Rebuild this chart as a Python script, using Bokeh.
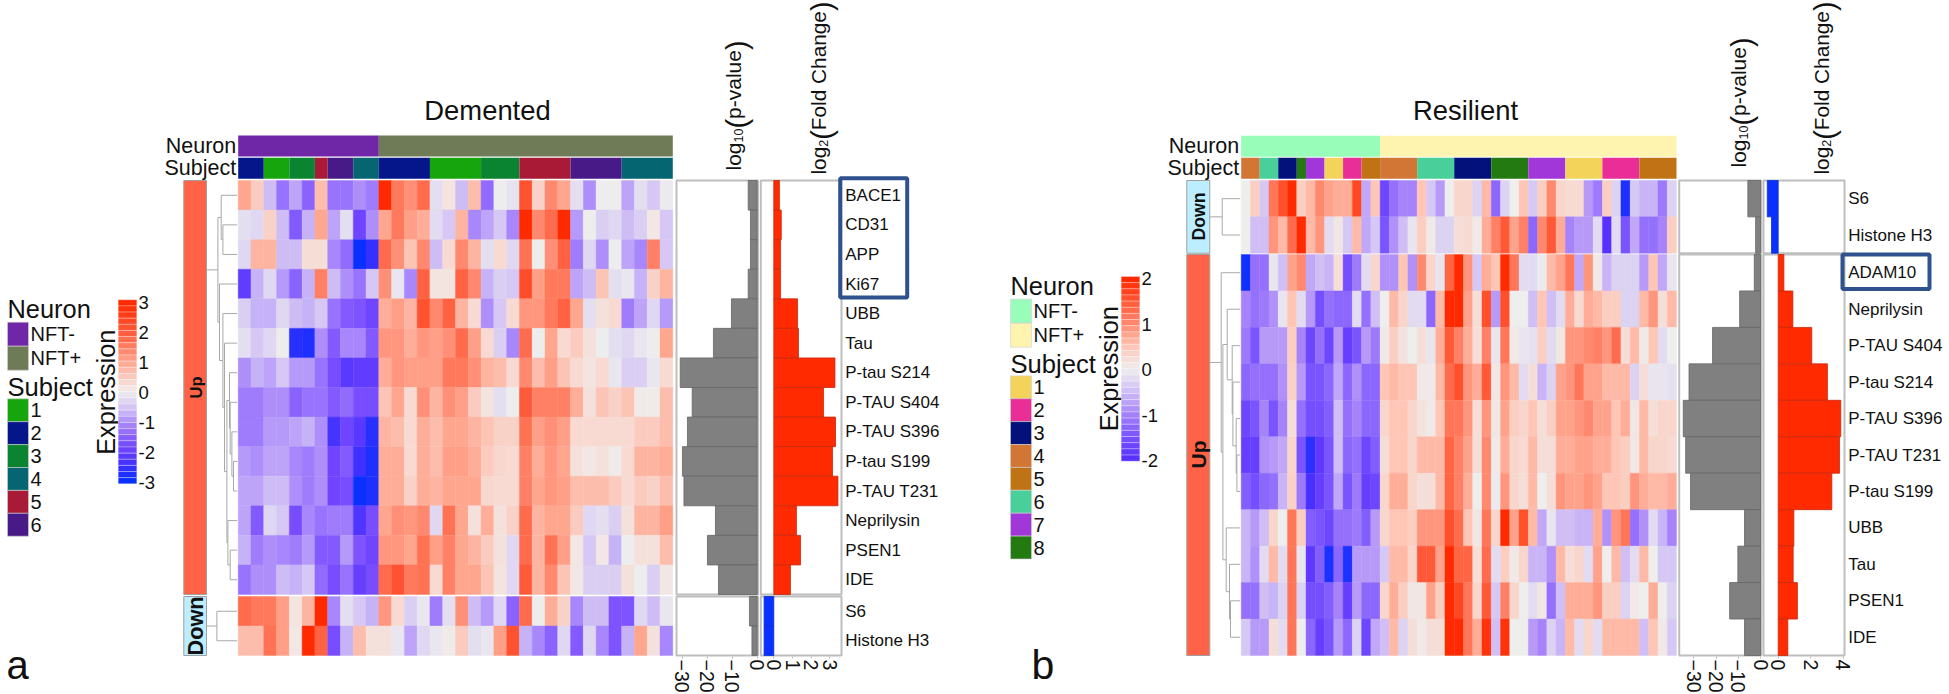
import numpy as np
from bokeh.plotting import figure
from bokeh.models import Range1d, LinearAxis, FixedTicker, LinearColorMapper, ColumnDataSource
from bokeh.core.properties import value
from bokeh.embed import file_html
from bokeh.resources import INLINE

# ---------- DATA: Demented ----------
DEM_GENES = ["BACE1","CD31","APP","Ki67","UBB","Tau","P-tau S214","P-TAU S404","P-TAU S396","P-tau S199","P-TAU T231","Neprilysin","PSEN1","IDE","S6","Histone H3"]
DEM_NEURON = ["NFT-"]*11 + ["NFT+"]*23
DEM_SUBJECT = [2,2,1,1,3,3,5,6,6,4,4, 2,2,2,2,1,1,1,1,3,3,3,5,5,5,5,6,6,6,6,4,4,4,4]
DEM_PVAL = [-3.6,-2.7,-2.7,-3.6,-10.3,-17.5,-30.8,-26,-27.9,-29.9,-29.3,-16.7,-19.9,-15.5,-3.1,-2.1]
DEM_FC = [.3,.4,.36,.36,1.27,1.32,3.27,2.66,3.3,3.14,3.43,1.21,1.43,.89,-.52,-.52]
D0 = [1.0,.5,-.6,-1.3,-.8,-1.5,.7,-1.3,-1.3,-1.0,-1.2,3,1.6,1.3,1.8,-.2,.15,-.6,.7,-1.4,0,-.15,2.2,.4,1.4,1.0,-.2,-1.0,0,0,-.8,-.2,-.5,-.05]
D1 = [-.2,-.3,.4,-.6,-1.6,-.7,1.0,-.8,-.2,-1.9,-1.0,1.0,1.6,1.1,.9,-.25,-.5,.8,-1.1,-.8,-.5,-1.1,3,1.4,1.8,3,-.9,0,-.4,-.3,-.6,-.4,.1,-.5]
D2 = [-.3,.8,.8,-.6,-.6,.25,.25,-1.1,-1.4,-3,-2.6,1.8,1.3,.6,1.4,-.6,.3,1.4,.8,-.2,.3,-.3,1.7,0,1.3,1.9,-1.2,-.3,-1.0,0,-.8,-1.1,1.5,-.5]
D3 = [-2.1,-.7,-.3,-.9,-1.5,-.7,1.5,-.6,-1.0,-1.3,-.5,1.3,-.1,-1.1,1.9,.15,.15,1.9,1.4,-.7,-.4,-.5,2.3,1.1,1.6,1.6,-.8,-.6,.6,-.2,-.1,-.7,.4,.8]
D4 = [-.4,-.7,-.7,-.3,-.6,-.7,-.5,-1.3,-1.6,-1.7,-1.9,.9,1.1,.8,2.2,1.4,1.9,.8,.3,-1.0,-.5,.3,1.2,1.2,1.6,1.9,1.0,-.2,.2,.3,-1.2,-.8,-.3,-.9]
D5 = [-.2,-.5,-.3,0,-2.7,-2.8,-1.0,-1.6,-1.1,-1.1,-1.6,1.2,1.2,.9,1.2,1.1,1.3,1.8,1.1,.3,-.4,-1.1,1.8,0,1.0,.3,.5,.2,0,-.2,-.3,-.1,0,1.0]
D6 = [-1.0,-.7,-.8,-.5,-.9,-.9,-1.3,-1.8,-2.2,-2.1,-2.1,.9,1.2,1.1,1.1,1.1,1.6,1.6,1.3,.8,.7,.3,1.4,.7,1.1,.6,.3,.15,.3,-.1,-.4,-.4,-.1,.3]
D7 = [-1.2,-1.2,-1.0,-1.0,-1.5,-1.3,-1.3,-1.6,-1.4,-1.8,-1.8,.6,1.0,.3,1.3,.8,1.3,1.1,.5,.15,-.2,0,2.0,1.5,1.5,1.5,.9,.2,.6,.4,.6,.05,.05,.7]
D8 = [-1.2,-1.2,-.9,-.9,-.8,-.7,-1.0,-2.4,-1.9,-2.2,-2.7,.8,.7,.3,.9,.7,1.0,1.0,.8,.6,.4,.4,1.7,1.1,1.3,1.1,.3,.3,.3,.3,.3,.5,.5,.7]
D9 = [-.9,-1.0,-.8,-.8,-1.1,-1.2,-1.0,-1.9,-1.6,-2.5,-2.8,.9,.9,.3,.9,.7,1.1,1.1,.9,.5,.35,.3,1.5,.9,1.2,1.0,.2,.1,.2,.05,.3,.8,.8,.9]
D10 = [-.8,-.8,-.6,-.6,-1.0,-1.2,-1.0,-1.9,-1.8,-3,-2.8,.9,.9,.4,.9,.8,1.0,1.0,1.0,.35,.3,.3,1.5,1.0,1.2,1.1,.7,.7,.7,.5,.3,.5,.4,.7]
D11 = [-.8,-1.6,-.3,-.5,-1.8,-1.1,-1.3,-1.2,-1.2,-2.3,-1.8,1.0,1.3,1.2,1.4,-.3,1.7,1.0,.2,.9,.2,.4,1.8,.8,1.0,1.0,.5,-.3,-.2,-.4,.2,.8,.8,1.1]
D12 = [-.7,-1.2,-1.0,-1.1,-1.2,-.9,-1.6,-1.6,-.9,-1.7,-1.9,1.2,1.2,1.0,1.7,1.1,1.5,1.0,.8,.5,.2,-.3,1.8,.8,1.7,1.1,.1,-.5,.1,-.7,0,.2,.2,.7]
D13 = [-1.3,-1.0,-1.0,-.6,-.7,-.5,-1.4,-1.8,-1.3,-2.0,-1.8,1.8,2.2,1.6,1.7,.3,1.5,1.0,1.0,.6,.15,-.3,2.0,.8,1.4,.6,.1,-.4,-.4,-.4,.2,0,-.4,.1]
D14 = [1.8,1.6,1.6,1.1,.15,.8,3,-1.1,-.2,-.5,-.7,1.2,.3,-.4,-.1,-1.2,-.2,1.3,-.6,-.9,-.3,-1.5,1.8,0,.9,.4,-1.1,-.6,-.6,-1.7,-1.7,-.3,-.6,-.1]
D15 = [.7,.7,1.7,1.1,.1,3,1.9,-1.8,-.7,.7,.2,.2,-.1,-.8,-.3,-.1,.05,.5,-.2,-.1,1.1,2.2,-.7,-1.1,-1.5,-.3,-1.6,-.3,-1.1,-1.7,-.7,1.0,.2,-1.1]
DEM_ROWS = [D0,D1,D2,D3,D4,D5,D6,D7,D8,D9,D10,D11,D12,D13,D14,D15]

# ---------- DATA: Resilient ----------
RES_GENES = ["S6","Histone H3","ADAM10","Neprilysin","P-TAU S404","P-tau S214","P-TAU S396","P-TAU T231","P-tau S199","UBB","Tau","PSEN1","IDE"]
RES_NEURON = ["NFT-"]*15 + ["NFT+"]*32
RES_SUBJECT = [4,4,6,6,3,3,8,7,7,1,1,2,2,5,5, 4,4,4,4,6,6,6,6,3,3,3,3,8,8,8,8,7,7,7,7,1,1,1,1,2,2,2,2,5,5,5,5]
RES_PVAL = [-5.7,-2.2,-2.8,-9.4,-21.6,-32.2,-34.8,-33.7,-31.5,-7.2,-10.2,-13.9,-7.2]
RES_FC = [-.67,-.41,.35,.9,2.06,3.02,3.84,3.76,3.29,.96,.92,1.18,.59]
R0 = [0,.4,-.4,1.2,1.6,2,.4,.6,1.0,.8,.7,.7,1.7,-.7,.5,-1.7,-1.2,-1.0,-1.0,.5,-.4,-.8,0,.3,.3,-.3,.6,-1.3,-.3,0,.5,-.4,.4,1.0,.3,.25,.25,-.8,-1.1,.4,-.3,-2.4,-.4,-.6,-.6,-1.1,-.3]
R1 = [0,-.5,-.5,.9,.6,1.3,2,.6,.9,-.2,.1,-.4,.6,-.7,-.4,-1.5,-.9,-.5,-.1,.4,.05,-.3,-.3,.2,.25,.05,.7,1.1,1.5,.8,1.1,-1.3,1.0,1.5,.7,-1.0,-.8,-.8,-.2,-2,-.2,-1.5,-.7,-1.2,-1.2,-1.0,.4]
R2 = [-2.5,-1.2,-1.2,-.1,-.5,.8,1.0,-.7,-.5,-.6,.2,-1.6,-1.1,-.2,.3,-.9,-.9,.5,-.9,1.0,.3,-.1,1.4,2,.9,-.4,.7,.5,2,1.2,-.2,-.2,-.05,.6,.8,1.2,-.7,.9,.05,-.6,-.3,-.3,-.3,-.8,.5,-.7,-.1]
R3 = [-1.0,-1.2,-1.1,-.9,-.1,.5,-.2,-.8,-1.6,-1.2,-1.3,-1.3,-.2,-1.2,-.5,0,.6,.3,-.2,-.2,-1.3,.6,2,2,.8,.2,1.6,-.8,1.6,0,0,-.5,.5,-.5,-.2,.7,.25,.7,.6,.4,.4,-.3,-.3,.6,.9,.2,.6]
R4 = [-1.1,-1.5,-.8,-.8,-.8,.4,-1.0,-1.7,-1.2,-1.7,-.8,-1.8,-1.5,-.8,-1.1,.05,.4,.15,0,.2,-.1,.7,1.5,1.1,.7,.2,1.1,-.1,1.2,.05,-.1,-.15,.4,-.2,.1,.9,.9,1.0,1.1,.9,1.3,.2,.6,.05,.5,-.2,0]
R5 = [-1.3,-1.2,-1.2,-1.2,-.9,.35,-.8,-1.5,-1.5,-1.3,-.7,-1.3,-.9,-1.3,-1.3,.5,.6,.5,.5,.05,.05,.6,1.3,1.6,.9,.7,1.5,.1,.9,.6,-.2,.2,-.6,-.3,.8,.9,1.2,.8,.8,.6,.6,.6,-.3,.2,-.1,-.1,-.15]
R6 = [-1.7,-1.5,-1.0,-1.5,-1.0,.2,-1.2,-1.6,-1.6,-1.4,-.5,-1.2,-1.0,-1.3,-1.3,.3,.5,.5,.3,.15,.05,.5,1.2,1.2,.9,.2,.9,.1,.8,.4,.3,.5,.2,.4,.8,.8,.9,1.0,.8,.8,.5,.7,.1,.6,.2,.3,.3]
R7 = [-1.8,-1.8,-.9,-.8,-.7,.3,-1.5,-2.3,-1.9,-1.5,-.5,-1.3,-1.2,-1.7,-1.4,.2,.5,.5,.3,.6,.6,.6,1.4,1.1,.8,.2,1.0,.05,.7,.3,.25,.6,.2,.2,.7,.7,.8,.8,.7,.7,.5,.4,.1,.6,.3,.3,.25]
R8 = [-1.4,-1.6,-1.3,-1.2,-.6,.35,-1.1,-2.1,-1.8,-1.5,-.7,-1.5,-1.1,-1.8,-1.7,.3,.7,.7,.3,.2,.2,.6,1.4,1.1,.7,0,1.0,-.05,.9,.3,.2,.6,0,.2,.9,.8,.8,.9,.8,.5,.5,.4,.9,.7,.6,.6,.7]
R9 = [-.6,-.8,-.5,.3,0,1.2,.4,-1.4,-1.5,-1.7,-1.2,-1.2,-1.1,-1.4,-.8,.3,.5,.5,.4,.9,.9,.9,1.6,1.3,.5,.1,1.2,.3,2,.8,1.6,.6,-.7,-.1,-.5,-.5,-.6,-.6,.7,-.9,.9,1.2,-1.2,-.9,-.2,-.6,-1.0]
R10 = [-.6,-.9,-.2,.6,-.2,1.2,-.1,-1.9,-1.4,-2.4,-1.3,-2.4,-.8,-.8,-.8,-.4,.6,.6,.3,1.5,1.5,.8,2,1.4,1.4,.2,1.3,-.2,.4,.05,.3,-.6,-.6,-.9,.6,.2,.3,-.2,.8,0,.6,-.5,-.2,.6,0,-.4,-.4]
R11 = [-1.2,-1.2,-.5,-.6,-.3,1.2,-.3,-1.6,-1.6,-1.4,-1.0,-1.8,-.8,-1.3,-1.3,.3,.7,.4,.1,.1,.8,.4,2,1.7,1.2,.3,1.5,-.4,1.1,.3,0,-.2,.1,-1.2,-.5,.7,.7,.7,.9,.4,.4,-.3,.05,0,.7,0,-.3]
R12 = [-.4,-.8,-.8,.2,-.2,1.2,0,-1.3,-1.8,-1.5,-.8,-1.3,-.3,-1.7,-.7,-.5,.6,-.3,.2,.05,.2,.2,2,2,1.2,.7,1.9,-.5,1.9,0,0,-.8,-1.0,-.3,-.6,.6,-.2,.3,-.2,.6,.6,.6,.6,-.5,.5,.05,-.4]
RES_ROWS = [R0,R1,R2,R3,R4,R5,R6,R7,R8,R9,R10,R11,R12]

# Dendrograms: (height, child, child); leaves are row indices
DEM_TREE_UP = (19.3, (16,0,(14.3,1,2)),
               (17.7,3,(14.3,4,(12.7,5,(10.3,(7.7,6,(7,7,(5.3,8,(3.7,9,10)))),(9.3,11,(7,12,13)))))))
DEM_TREE_DOWN = (20.3,14,15)
RES_TREE_DOWN = (18,0,1)
RES_TREE_UP = (19,2,(17.3,(13,3,(8,4,(7.3,5,(4,6,(3.3,7,8))))),(14,9,(10.7,10,(9.7,11,12)))))

DEM_NEURON_COLORS = {"NFT-":"#6F27A8","NFT+":"#6F7A56"}
DEM_SUBJECT_COLORS = {1:"#17A50E",2:"#04168A",3:"#0A8430",4:"#056570",5:"#A81A35",6:"#471A88"}
RES_NEURON_COLORS = {"NFT-":"#97FDB9","NFT+":"#FFF3B0"}
RES_SUBJECT_COLORS = {1:"#F3D35A",2:"#E92F97",3:"#02127A",4:"#D27635",5:"#BF7315",6:"#49CF99",7:"#A137D8",8:"#237A10"}

DEM_ANCHORS = [(-3,"#0A30FF"),(-2.5,"#3F30FF"),(-2,"#6A3FFF"),(-1.5,"#8A62FF"),(-1,"#AE8FFA"),(-.5,"#D6C8F4"),(0,"#EEEEEE"),(.3,"#F8DAD2"),(1,"#FFA68F"),(2,"#FF5C3C"),(3,"#FF2A00")]
RES_ANCHORS = [(-2.5,"#0F30FF"),(-2,"#5A30FF"),(-1.5,"#7A55FF"),(-1,"#A783FA"),(-.5,"#D0BFF5"),(0,"#EEEEEE"),(.5,"#FFC6B6"),(1,"#FF8A70"),(1.5,"#FF5A38"),(2,"#FF2A00")]

FONT = value("Liberation Sans")
GREY = "#BEBEBE"; TREE = "#A8A8A8"; BOX = "#2F528F"; INK = "#111111"
W, H = 1949, 694

def make_palette(anchors, n=256):
    vs = np.array([a[0] for a in anchors], float)
    cs = np.array([[int(a[1][i:i+2],16) for i in (1,3,5)] for a in anchors], float)
    t = np.linspace(vs[0], vs[-1], n)
    return ["#%02x%02x%02x" % tuple(int(round(np.interp(x, vs, cs[:,k]))) for k in range(3)) for x in t]

for r in DEM_ROWS: assert len(r)==34, len(r)
for i,r in enumerate(RES_ROWS): assert len(r)==47, (i,len(r))

p = figure(width=W, height=H, x_range=Range1d(0,W), y_range=Range1d(H,0),
           toolbar_location=None, output_backend="svg", min_border=0,
           x_axis_location=None, y_axis_location=None, outline_line_color=None)
p.grid.visible = False

def txt(x,y,s,size,align="left",base="middle",angle=0,style="normal",color=INK):
    p.text(x=[x],y=[y],text=[s],text_font=FONT,text_font_size=value(f"{size}px"),text_align=align,
           text_baseline=base,angle=angle,text_font_style=style,text_color=color)

def value_range(name, zero_px, px_per_unit):
    p.extra_x_ranges[name] = Range1d(start=(0-zero_px)/px_per_unit, end=(W-zero_px)/px_per_unit)

def draw_tree(node, centers, xr):
    xs, ys = [], []
    def rec(n):
        if isinstance(n,int): return xr, centers[n]
        h,a,b = n
        x = xr-h
        xa,ya = rec(a); xb,yb = rec(b)
        xs.append([xa,x,x,xb]); ys.append([ya,ya,yb,yb])
        return x,(ya+yb)/2
    out = rec(node)
    p.multi_line(xs,ys,line_color=TREE,line_width=1)
    return out

def runs(labels):
    out = []; start = 0
    for i in range(1,len(labels)+1):
        if i==len(labels) or labels[i]!=labels[start]:
            out.append((start,i,labels[start])); start = i
    return out

def draw_panel(title, title_x, rows, genes, neuron, subject, ncol_colors, scol_colors, anchors, low, high,
               hx0, hx1, groups, tracks_y, bar_x, trees, pval, fc, pbox, fbox, pz, pk, fz, fk, pname, fname,
               pticks, fticks, lab_x, lab_size, ylog):
    mapper = LinearColorMapper(palette=make_palette(anchors), low=low, high=high)
    ncol = len(rows[0]); w = (hx1-hx0)/ncol
    left = hx0+np.arange(ncol)*w
    centers = {}
    lx,rx,tp,bt,val = [],[],[],[],[]
    bands = {}
    for (name, y0, y1, idx) in groups:
        h = (y1-y0)/len(idx)
        for k,i in enumerate(idx):
            centers[i] = y0+(k+.5)*h
            bands[i] = h
            for c in range(ncol):
                lx.append(left[c]); rx.append(left[c]+w); tp.append(y0+k*h); bt.append(y0+(k+1)*h); val.append(rows[i][c])
    src = ColumnDataSource(dict(l=lx,r=rx,t=tp,b=bt,v=val))
    tr = {"field":"v","transform":mapper}
    p.quad(left="l",right="r",top="t",bottom="b",source=src,fill_color=tr,line_color=tr,line_width=.4)
    # tracks, one block per run of equal labels
    for labels, colors, (y0,y1) in ((neuron,ncol_colors,tracks_y[0]),(subject,scol_colors,tracks_y[1])):
        rr = runs(labels)
        p.quad(left=[hx0+a*w for a,b,s in rr],right=[hx0+b*w for a,b,s in rr],top=y0,bottom=y1,
               fill_color=[colors[s] for a,b,s in rr],line_color=None)
    txt(hx0-2,np.mean(tracks_y[0]),"Neuron",21.5,"right")
    txt(hx0-2,np.mean(tracks_y[1]),"Subject",21.5,"right")
    txt(title_x,110,title,27.4,"center")
    # group strips
    for (name,y0,y1,idx) in groups:
        col = "#FF6347" if name=="Up" else "#BCEEFF"
        p.quad(left=bar_x[0],right=bar_x[1],top=y0,bottom=y1,fill_color=col,line_color="#A0A0A0",line_width=1)
    # trees
    for tree,stem in trees:
        x,y = draw_tree(tree,centers,hx0-1)
        p.line([bar_x[1],x],[y,y],line_color=TREE,line_width=1)
    # bars
    ys = [centers[i] for i in range(len(genes))]
    hs = [bands[i] for i in range(len(genes))]
    value_range(pname,pz,pk); value_range(fname,fz,fk)
    for (name,y0,y1,idx) in groups:
        for bx in (pbox,fbox):
            p.quad(left=bx[0],right=bx[1],top=y0,bottom=y1,fill_color=None,line_color=GREY,line_width=2)
    p.hbar(y=ys,height=hs,left=0,right=pval,x_range_name=pname,fill_color="#808080",line_color="#666666",line_width=.8)
    fcols = ["#FF2A00" if v>0 else "#0A30FF" for v in fc]
    fline = ["#C62A10" if v>0 else "#0A30D0" for v in fc]
    p.hbar(y=ys,height=hs,left=0,right=fc,x_range_name=fname,fill_color=fcols,line_color=fline,line_width=.8)
    for rn,ticks in ((pname,pticks),(fname,fticks)):
        ax = LinearAxis(x_range_name=rn,fixed_location=656,ticker=FixedTicker(ticks=ticks),axis_line_color=None,
                        major_tick_line_color=GREY,major_tick_out=2,major_tick_in=0,minor_tick_line_color=None,
                        major_label_orientation="vertical",major_label_standoff=1,
                        major_label_text_font="Liberation Sans",major_label_text_font_size="19.5px",major_label_text_color=INK)
        p.add_layout(ax,"below")
    for i,g in enumerate(genes):
        txt(lab_x,centers[i],g,lab_size)
    # rotated headings
    for (base,bottom,sub,main,main_size) in ylog:
        ang = np.pi/2
        y = bottom
        txt(base,y,"log",main_size,base="alphabetic",angle=ang); y -= 1.334*main_size
        txt(base+5,y,sub,12.5,base="alphabetic",angle=ang); y -= .556*12.5*len(sub)
        txt(base+3,y,"(",29,base="alphabetic",angle=ang); y -= .333*29
        txt(base,y,main[0],main_size,base="alphabetic",angle=ang); y -= main[1]*main_size
        txt(base+3,y,")",29,base="alphabetic",angle=ang)
    return mapper, centers

def draw_legend(x0, neuron_y, ncolors, subj_y, scolors, step, ex, ey, cb, mapper, cbv, tick_zero, tick_step, ticks):
    txt(x0,neuron_y-13,"Neuron",25.4)
    for i,(k,c) in enumerate(ncolors.items()):
        p.quad(left=x0,right=x0+21,top=neuron_y+i*24,bottom=neuron_y+(i+1)*24,fill_color=c,line_color="#D0D0D0",line_width=.6)
        txt(x0+23,neuron_y+(i+.5)*24,k,20)
    txt(x0,subj_y-11.5,"Subject",25.6)
    for i,(k,c) in enumerate(scolors.items()):
        p.quad(left=x0,right=x0+21,top=subj_y+i*step,bottom=subj_y+(i+1)*step,fill_color=c,line_color="#D0D0D0",line_width=.6)
        txt(x0+23,subj_y+(i+.5)*step,str(k),20)
    txt(ex,ey,"Expression",25.3,"center",angle=np.pi/2)
    n = 30
    edges = np.linspace(cb[2],cb[3],n+1)
    vals = np.linspace(cbv[0],cbv[1],n)
    src = ColumnDataSource(dict(t=edges[:-1],b=edges[1:],v=vals))
    tr = {"field":"v","transform":mapper}
    p.quad(left=cb[0],right=cb[1],top="t",bottom="b",source=src,fill_color=tr,line_color="white",line_alpha=.35,line_width=.8)
    for t in ticks:
        txt(cb[1]+1.7,tick_zero-t*tick_step,str(t),18.5)

mapA, _ = draw_panel("Demented",487,DEM_ROWS,DEM_GENES,DEM_NEURON,DEM_SUBJECT,DEM_NEURON_COLORS,DEM_SUBJECT_COLORS,DEM_ANCHORS,-3,3,
    237.7,672.3,[("Up",180,594,list(range(14))),("Down",596,655,[14,15])],[(135,156),(157.3,178.3)],(183.3,206),
    [(DEM_TREE_UP,None),(DEM_TREE_DOWN,None)],DEM_PVAL,DEM_FC,(676,757.5),(760.3,841),756.7,2.5,773.3,18.7,"pa","fa",
    [-30,-20,-10,0],[0,1,2,3],844.7,17,[(733,170,"10",("p-value",3.279),21),(818.3,174,"2",("Fold Change",5.725),20.8)])
mapB, _ = draw_panel("Resilient",1465,RES_ROWS,RES_GENES,RES_NEURON,RES_SUBJECT,RES_NEURON_COLORS,RES_SUBJECT_COLORS,RES_ANCHORS,-2.5,2,
    1240.7,1676,[("Down",180,252.7,[0,1]),("Up",254,655,list(range(2,13)))],[(135.3,156.3),(157.3,178.3)],(1186.3,1209.3),
    [(RES_TREE_DOWN,None),(RES_TREE_UP,None)],RES_PVAL,RES_FC,(1678.7,1760.7),(1763,1844),1760,2.22,1777.7,16.3,"pb","fb",
    [-30,-20,-10,0],[0,2,4],1847.7,17,[(1738,167,"10",("p-value",3.279),21),(1821,174,"2",("Fold Change",5.725),20.8)])

# group letters on the strips
txt(195,387,"Up",16.5,"center",angle=np.pi/2,style="bold")
txt(195,625.5,"Down",21.7,"center",angle=np.pi/2,style="bold")
txt(1198,454,"Up",21,"center",angle=np.pi/2,style="bold")
txt(1198,216,"Down",17.7,"center",angle=np.pi/2,style="bold")

# highlight boxes
p.quad(left=839.7,right=906.7,top=177.7,bottom=297,fill_color=None,line_color=BOX,line_width=4)
p.quad(left=1842,right=1929,top=254,bottom=288.5,fill_color=None,line_color=BOX,line_width=4)

draw_legend(7,321.7,DEM_NEURON_COLORS,398.3,DEM_SUBJECT_COLORS,22.9,105,391.7,(117.7,136.3,299.3,483.3),mapA,(3,-3),391.7,30,[3,2,1,0,-1,-2,-3])
draw_legend(1010,298.7,RES_NEURON_COLORS,375.3,RES_SUBJECT_COLORS,22.9,1108.3,368.3,(1120.7,1139.3,276,460.7),mapB,(2,-2),369,45.5,[2,1,0,-1,-2])

txt(6,664,"a",40)
txt(1031,664,"b",41)

open("out.html","w").write(file_html(p, INLINE))
